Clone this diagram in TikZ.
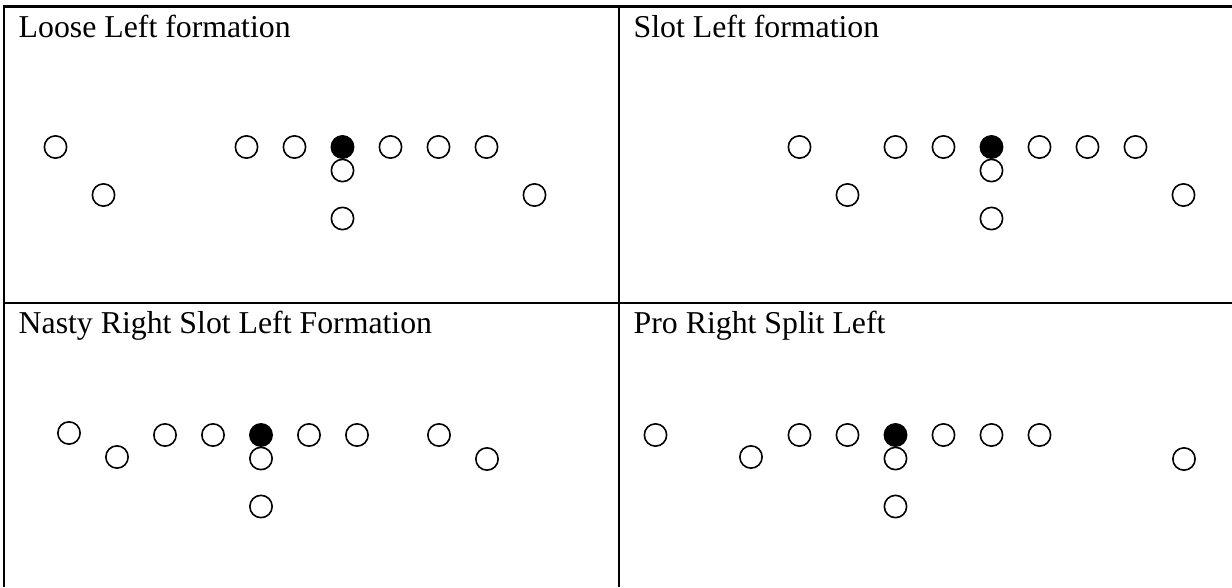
\documentclass[tikz,border=0pt]{standalone}
\usepackage{fontspec}
\setmainfont{Liberation Serif}
\begin{document}
\begin{tikzpicture}[x=1pt,y=-1pt,
  player/.style={circle,draw=black,line width=1.6pt,fill=white,minimum size=22.3pt,inner sep=0pt},
  center/.style={player,fill=black},
  title/.style={anchor=base west,inner sep=0pt,font=\fontsize{31.8}{36}\selectfont},
  rule/.style={line width=2.2pt}]
\useasboundingbox (0,0) rectangle (1232,587);
% table rules
\coordinate (tl) at (4.3,6.5);
\coordinate (tr) at (1232,6.5);
\coordinate (bl) at (4.3,587);
\coordinate (mt) at (619,6.5);
\coordinate (mb) at (619,587);
\coordinate (ml) at (4.3,303.3);
\coordinate (mr) at (1232,303.3);
\draw[rule] (bl) -- (tl) -- (tr);
\draw[rule] (mt) -- (mb);
\draw[rule] (ml) -- (mr);
% titles
\node[title] (t1) at (18.5,37) {Loose Left formation};
\node[title] (t2) at (633.5,37) {Slot Left formation};
\node[title] (t3) at (18.5,333) {Nasty Right Slot Left Formation};
\node[title] (t4) at (633.5,333) {Pro Right Split Left};
% Loose Left
\node[player] (a1) at (55.5,147) {};
\node[player] (a2) at (103.5,195) {};
\node[player] (a3) at (246.5,147) {};
\node[player] (a4) at (294.5,147) {};
\node[center] (a5) at (342.5,147) {};
\node[player] (a6) at (390.5,147) {};
\node[player] (a7) at (438.5,147) {};
\node[player] (a8) at (486.5,147) {};
\node[player] (a9) at (342.5,170.5) {};
\node[player] (a10) at (342.5,218.5) {};
\node[player] (a11) at (534.5,195) {};
% Slot Left
\node[player] (b1) at (799.5,147) {};
\node[player] (b2) at (847.5,195) {};
\node[player] (b3) at (895.5,147) {};
\node[player] (b4) at (943.5,147) {};
\node[center] (b5) at (991.5,147) {};
\node[player] (b6) at (1039.5,147) {};
\node[player] (b7) at (1087.5,147) {};
\node[player] (b8) at (1135.5,147) {};
\node[player] (b9) at (991.5,170.5) {};
\node[player] (b10) at (991.5,218.5) {};
\node[player] (b11) at (1183.5,195) {};
% Nasty Right Slot Left
\node[player] (c1) at (69,433) {};
\node[player] (c2) at (117,457) {};
\node[player] (c3) at (165,435) {};
\node[player] (c4) at (213,435) {};
\node[center] (c5) at (261,435) {};
\node[player] (c6) at (309,435) {};
\node[player] (c7) at (357,435) {};
\node[player] (c8) at (439,435) {};
\node[player] (c9) at (487,459) {};
\node[player] (c10) at (261,458.5) {};
\node[player] (c11) at (261,506.5) {};
% Pro Right Split Left
\node[player] (d1) at (655.5,435) {};
\node[player] (d2) at (751,457) {};
\node[player] (d3) at (799.5,435) {};
\node[player] (d4) at (847.5,435) {};
\node[center] (d5) at (895.5,435) {};
\node[player] (d6) at (943.5,435) {};
\node[player] (d7) at (991.5,435) {};
\node[player] (d8) at (1039.5,435) {};
\node[player] (d9) at (895.5,458.5) {};
\node[player] (d10) at (895.5,506.5) {};
\node[player] (d11) at (1184,459) {};
\end{tikzpicture}
\end{document}
